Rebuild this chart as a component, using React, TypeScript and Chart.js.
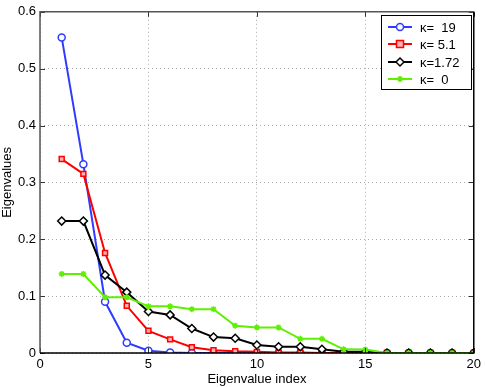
import React, { useEffect, useRef } from "react";
import { Chart, registerables } from "chart.js";

Chart.register(...registerables);

const indices = [1, 2, 3, 4, 5, 6, 7, 8, 9, 10, 11, 12, 13, 14, 15, 16, 17, 18, 19, 20];
const kappa19 = [0.555, 0.332, 0.09, 0.018, 0.004, 0.001, 0, 0, 0, 0, 0, 0, 0, 0, 0, 0, 0, 0, 0, 0];
const kappa5_1 = [0.341, 0.315, 0.176, 0.083, 0.039, 0.024, 0.01, 0.005, 0.003, 0.002, 0.001, 0.001, 0, 0, 0, 0, 0, 0, 0, 0];
const kappa1_72 = [0.232, 0.232, 0.137, 0.107, 0.073, 0.067, 0.043, 0.028, 0.026, 0.014, 0.011, 0.011, 0.0065, 0.002, 0.002, 0, 0, 0, 0, 0];
const kappa0 = [0.139, 0.139, 0.098, 0.098, 0.082, 0.082, 0.077, 0.077, 0.048, 0.045, 0.045, 0.025, 0.025, 0.0065, 0.006, 0, 0, 0, 0, 0];
const legendLabels = ["κ=  19", "κ= 5.1", "κ=1.72", "κ=  0"];
const xTicks = [0, 5, 10, 15, 20];
const yTicks = [0, 0.1, 0.2, 0.3, 0.4, 0.5, 0.6];

const FONT = "'Liberation Sans', Arial, sans-serif";

export default function App() {
  const ref = useRef<HTMLCanvasElement | null>(null);
  useEffect(() => {
    document.body.style.margin = "0";
    const canvas = ref.current!;
    const series = [
      { label: legendLabels[0], data: kappa19, color: "#2e3cff", style: "circle", bg: "#ffffff", r: 3.5 },
      { label: legendLabels[1], data: kappa5_1, color: "#ff0000", style: "rect", bg: "#ffb0b0", r: 3.5 },
      { label: legendLabels[2], data: kappa1_72, color: "#000000", style: "rectRot", bg: "#ffffff", r: 4 },
      { label: legendLabels[3], data: kappa0, color: "#5ef000", style: "star", bg: "#5ef000", r: 3 },
    ];
    function drawMarker(ctx: CanvasRenderingContext2D, style: string, x: number, y: number, r: number, color: string, bg: string) {
      ctx.save();
      ctx.strokeStyle = color;
      ctx.fillStyle = bg;
      ctx.lineWidth = 1.5;
      ctx.beginPath();
      if (style === "circle") {
        ctx.arc(x, y, r, 0, Math.PI * 2);
        ctx.fill();
        ctx.stroke();
      } else if (style === "rect") {
        ctx.rect(x - r, y - r, 2 * r, 2 * r);
        ctx.fill();
        ctx.stroke();
      } else if (style === "rectRot") {
        ctx.moveTo(x, y - r);
        ctx.lineTo(x + r, y);
        ctx.lineTo(x, y + r);
        ctx.lineTo(x - r, y);
        ctx.closePath();
        ctx.fill();
        ctx.stroke();
      } else {
        ctx.moveTo(x - r, y); ctx.lineTo(x + r, y);
        ctx.moveTo(x, y - r); ctx.lineTo(x, y + r);
        ctx.moveTo(x - r * 0.7, y - r * 0.7); ctx.lineTo(x + r * 0.7, y + r * 0.7);
        ctx.moveTo(x - r * 0.7, y + r * 0.7); ctx.lineTo(x + r * 0.7, y - r * 0.7);
        ctx.stroke();
      }
      ctx.restore();
    }
    const framePlugin = {
      id: "frame",
      afterDraw(chart: any) {
        const { ctx, chartArea: a, scales } = chart;
        ctx.save();
        ctx.lineWidth = 1;
        ctx.strokeStyle = "#333";
        const tl = 5;
        ctx.beginPath();
        for (const v of xTicks) {
          const x = Math.round(scales.x.getPixelForValue(v)) + 0.5;
          ctx.moveTo(x, a.bottom);
          ctx.lineTo(x, a.bottom - tl);
          ctx.moveTo(x, a.top);
          ctx.lineTo(x, a.top + tl);
        }
        for (const v of yTicks) {
          const y = Math.round(scales.y.getPixelForValue(v)) + 0.5;
          ctx.moveTo(a.left, y);
          ctx.lineTo(a.left + tl, y);
          ctx.moveTo(a.right, y);
          ctx.lineTo(a.right - tl, y);
        }
        ctx.stroke();
        ctx.lineWidth = 1.5;
        ctx.strokeStyle = "#555";
        ctx.beginPath();
        ctx.moveTo(a.left, a.bottom);
        ctx.lineTo(a.left, a.top);
        ctx.lineTo(a.right, a.top);
        ctx.stroke();
        ctx.strokeStyle = "#000";
        ctx.beginPath();
        ctx.moveTo(a.left, a.bottom);
        ctx.lineTo(a.right, a.bottom);
        ctx.lineTo(a.right, a.top);
        ctx.stroke();
        // legend
        const lx = 381, ly = 15, lw = 90, lh = 74;
        ctx.fillStyle = "#fff";
        ctx.fillRect(lx, ly, lw, lh);
        ctx.lineWidth = 1;
        ctx.strokeStyle = "#000";
        ctx.strokeRect(lx + 0.5, ly + 0.5, lw, lh);
        const rows = [27, 44, 62, 79];
        series.forEach((s, i) => {
          const y = rows[i];
          ctx.strokeStyle = s.color;
          ctx.lineWidth = 2;
          ctx.beginPath();
          ctx.moveTo(388, y);
          ctx.lineTo(412, y);
          ctx.stroke();
          drawMarker(ctx, s.style, 400, y, s.r, s.color, s.bg);
          ctx.fillStyle = "#000";
          ctx.font = `13px ${FONT}`;
          ctx.textBaseline = "middle";
          ctx.textAlign = "left";
          ctx.fillText(s.label, 420, y + 1);
        });
        ctx.restore();
      },
    };
    const chart = new Chart(canvas, {
      type: "line",
      data: {
        datasets: series.map((s, i) => ({
          label: s.label,
          data: s.data.map((v, j) => ({ x: indices[j], y: v })),
          borderColor: s.color,
          backgroundColor: s.bg,
          pointBorderColor: s.color,
          pointBackgroundColor: s.bg,
          pointStyle: s.style as any,
          pointRadius: s.r,
          pointBorderWidth: 1.5,
          borderWidth: 2,
          tension: 0,
          fill: false,
          order: 3 - i,
        })),
      },
      options: {
        animation: false,
        responsive: false,
        maintainAspectRatio: false,
        layout: { padding: { top: 10, right: 11, left: 0, bottom: 0 } },
        plugins: { legend: { display: false }, tooltip: { enabled: false } },
        scales: {
          x: {
            type: "linear",
            min: 0,
            max: 20,
            afterBuildTicks: (s: any) => { s.ticks = xTicks.map((v) => ({ value: v })); },
            afterFit: (s: any) => { s.height = 34; },
            grid: { color: "#aaa", drawTicks: false, lineWidth: 1 },
            border: { display: false, dash: [1, 3] },
            ticks: { color: "#000", font: { family: FONT, size: 13 }, padding: 4, maxRotation: 0 },
            title: { display: true, text: "Eigenvalue index", color: "#000", font: { family: FONT, size: 13 }, padding: { top: 0, bottom: 0 } },
          },
          y: {
            type: "linear",
            min: 0,
            max: 0.6,
            afterBuildTicks: (s: any) => { s.ticks = yTicks.map((v) => ({ value: v })); },
            afterFit: (s: any) => { s.width = 40; },
            grid: { color: "#aaa", drawTicks: false, lineWidth: 1 },
            border: { display: false, dash: [1, 3] },
            ticks: { color: "#000", font: { family: FONT, size: 13 }, padding: 4, callback: (v: any) => String(+Number(v).toFixed(1)) },
            title: { display: true, text: "Eigenvalues", color: "#000", font: { family: FONT, size: 13 }, padding: { top: 0, bottom: 2 } },
          },
        },
      },
      plugins: [framePlugin],
    });
    return () => chart.destroy();
  }, []);
  return (
    <div style={{ position: "absolute", left: 0, top: 0, width: 485, height: 387 }}>
      <canvas ref={ref} width={485} height={387} style={{ display: "block", width: 485, height: 387 }} />
    </div>
  );
}
